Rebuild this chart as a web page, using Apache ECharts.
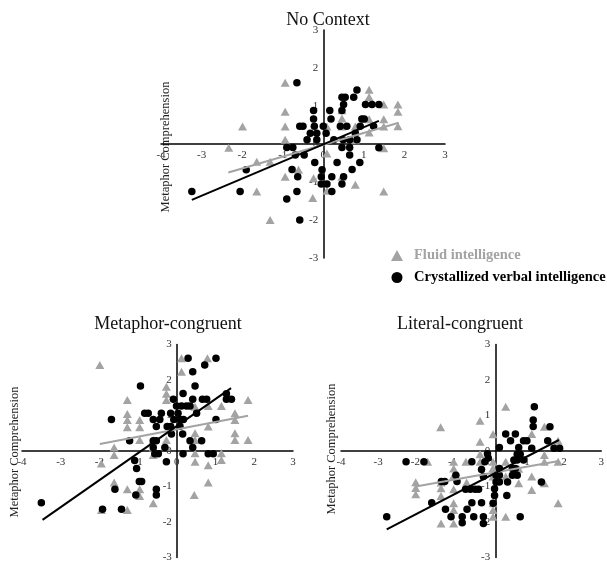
<!DOCTYPE html>
<html>
<head>
<meta charset="utf-8">
<script src="https://cdn.jsdelivr.net/npm/echarts@6/dist/echarts.min.js"></script>
<style>html,body{margin:0;padding:0;background:#fff}#c{width:607px;height:563px}</style>
</head>
<body>
<div id="c"></div>
<script>
const panelTitles = ['No Context', 'Metaphor-congruent', 'Literal-congruent'];
const seriesNames = ['Fluid intelligence', 'Crystallized verbal intelligence'];
const yAxisTitle = 'Metaphor Comprehension';
const xTicks = [-4, -3, -2, -1, 0, 1, 2, 3];
const yTicks = [-3, -2, -1, 0, 1, 2, 3];

// No Context
const noContextFluid = [[-0.94,1.61],[-0.94,0.85],[-0.94,0.46],[-0.94,0.11],[-1.99,0.46],[-2.33,-0.10],[-1.64,-0.47],[-1.31,-0.47],[-1.64,-1.25],[-1.31,-2.0],[-0.94,-0.86],[-0.61,-0.68],[-0.24,-0.90],[-0.26,-1.42],
[1.13,1.43],[1.13,1.24],[1.84,1.04],[1.84,0.85],[1.84,0.47],[1.49,1.04],[1.49,0.65],[1.49,0.46],[1.13,0.65],[1.13,0.30],[1.49,-0.11],[1.49,-1.25],[0.79,-1.07],[0.46,0.67],[0.46,0.46],[0.79,0.46],[0.09,0.46],[0.09,-1.23],[0.46,-0.86],[0.46,0.89],[0.09,-0.25],[0.79,0.10]];
const noContextCryst = [[-0.65,1.61],[0.83,1.42],[0.46,1.23],[0.54,1.23],[0.75,1.23],[0.50,1.04],[1.04,1.04],[1.20,1.04],[1.37,1.04],[-0.24,0.88],[0.16,0.88],[0.46,0.88],[-0.24,0.66],[0.19,0.66],[0.95,0.66],[1.01,0.66],
[-0.58,0.47],[-0.50,0.47],[-0.22,0.47],[0.0,0.47],[0.42,0.47],[0.58,0.47],[0.91,0.47],[1.24,0.47],[-0.32,0.28],[-0.16,0.28],[0.07,0.28],[0.79,0.28],[-0.40,0.11],[-0.16,0.11],[0.26,0.11],[0.49,0.11],[0.65,0.11],[0.83,0.11],
[-0.90,-0.09],[-0.75,-0.09],[0.46,-0.09],[0.65,-0.09],[1.37,-0.10],[-0.69,-0.29],[-0.47,-0.29],[0.65,-0.29],[-0.21,-0.49],[0.34,-0.49],[0.90,-0.49],[-0.77,-0.67],[-0.03,-0.68],[0.71,-0.67],[-1.90,-0.68],
[-0.63,-0.86],[-0.05,-0.86],[0.21,-0.86],[0.50,-0.86],[-0.05,-1.05],[0.09,-1.05],[0.46,-1.05],[-3.24,-1.25],[-2.05,-1.25],[-0.65,-1.25],[0.21,-1.25],[-0.90,-1.45],[-0.58,-2.0]];
const noContextFluidFit = [[-2.34,-0.75],[1.86,0.56]];
const noContextCrystFit = [[-3.24,-1.47],[1.37,0.61]];

// Metaphor-congruent
const metaphorFluid = [[-1.99,2.42],[-1.28,1.44],[-1.28,1.04],[-1.28,0.87],[-1.28,0.67],[-0.96,0.87],[-0.96,0.67],[-0.96,0.31],[-1.62,0.10],[-1.62,-0.11],[-1.95,-0.35],[-1.62,-0.89],[-1.28,-1.08],[-0.96,-1.08],[-0.96,-1.27],[-0.61,-1.47],[-1.28,-1.66],[-1.95,-1.66],
[-0.27,1.81],[-0.27,1.61],[-0.27,1.44],[-0.27,0.31],[-0.61,0.31],[-0.61,0.10],[-0.61,-0.11],[-0.27,0.12],
[0.12,2.61],[0.12,2.23],[0.79,2.61],[1.84,1.44],[1.50,1.06],[1.50,0.87],[1.50,0.50],[1.50,0.31],[1.84,0.31],[1.15,1.27],[0.81,1.27],[0.81,0.69],[0.47,1.25],[0.47,0.50],[0.47,0.31],[0.47,-0.06],[0.47,-0.30],[0.81,-0.40],[0.81,-0.89],[0.45,-1.24],[1.15,-0.06],[1.15,-0.25]];
const metaphorCryst = [[0.29,2.61],[1.01,2.61],[0.72,2.42],[0.41,2.23],[-0.94,1.83],[0.47,1.83],[0.16,1.62],[-0.09,1.46],[0.41,1.46],[0.66,1.46],[0.77,1.46],[1.28,1.61],[1.28,1.46],[1.41,1.46],
[-0.01,1.27],[0.12,1.27],[0.25,1.27],[0.34,1.27],[0.51,1.06],[-1.69,0.89],[-0.83,1.06],[-0.74,1.06],[-0.40,1.06],[-0.16,1.06],[0.03,1.06],[-0.61,0.89],[-0.44,0.89],[-0.08,0.89],[0.08,0.89],[0.17,0.89],[1.01,0.89],
[-0.53,0.69],[-0.25,0.69],[-0.16,0.69],[0.08,0.70],[-0.14,0.48],[0.15,0.48],[-1.22,0.29],[-0.61,0.29],[-0.53,0.29],[0.34,0.29],[0.64,0.29],[-0.31,0.10],[0.41,0.10],[-0.61,0.10],
[-0.57,-0.08],[-0.48,-0.08],[0.16,-0.08],[0.81,-0.08],[0.94,-0.08],[-1.09,-0.27],[-0.27,-0.30],[-1.04,-0.49],[-0.97,-0.86],[-0.91,-0.86],[-1.60,-1.08],[-0.53,-1.08],[-0.53,-1.24],[-1.06,-1.24],[-3.50,-1.46],[-1.92,-1.64],[-1.43,-1.64]];
const metaphorFluidFit = [[-1.99,0.20],[1.84,0.99]];
const metaphorCrystFit = [[-3.47,-1.94],[1.40,1.77]];

// Literal-congruent
const literalFluid = [[-1.32,0.67],[-0.26,0.85],[-0.26,0.26],[-0.26,-0.09],[0.43,1.25],[0.09,0.47],[-1.67,-0.30],[-0.97,-0.30],[-0.64,-0.30],[-0.26,-0.30],[-1.99,-0.88],[-1.99,-1.04],[-1.99,-1.22],[-1.31,-0.89],[-1.31,-1.05],[-1.31,-1.27],
[-0.97,-0.49],[-0.97,-0.70],[-0.97,-1.08],[-0.97,-1.47],[-0.97,-1.66],[-1.31,-2.04],[-0.97,-2.04],[-0.62,-0.89],[0.09,-0.30],[0.09,-0.48],[0.09,-0.72],[0.09,-1.47],[0.09,-1.66],[0.09,-1.85],[0.43,-0.30],[0.43,-0.72],[0.43,-1.85],
[0.78,-0.91],[0.78,-0.50],[1.13,0.48],[1.13,-0.72],[1.13,-1.10],[1.47,0.68],[1.47,-0.11],[1.47,-0.30],[1.47,-0.91],[1.84,0.29],[1.84,-0.30],[1.84,-1.47]];
const literalCryst = [[1.20,1.25],[1.17,0.87],[1.17,0.69],[1.62,0.68],[0.43,0.48],[0.69,0.48],[0.56,0.29],[1.56,0.29],[0.26,0.10],[0.91,0.29],[1.0,0.29],[0.78,0.10],[1.13,0.08],[1.73,0.08],[1.88,0.08],[-0.06,-0.08],[0.74,-0.09],[0.82,-0.09],
[0.65,-0.25],[0.74,-0.25],[0.91,-0.25],[-2.25,-0.30],[-1.77,-0.30],[-0.48,-0.30],[-0.13,-0.30],[-0.22,-0.52],[0.26,-0.49],[0.61,-0.49],[0.69,-0.49],[-0.91,-0.68],[-1.30,-0.86],[-1.21,-0.86],[-0.88,-0.86],[-0.17,-0.72],
[0.17,-0.68],[0.26,-0.68],[0.61,-0.68],[0.74,-0.68],[0.17,-0.87],[0.26,-0.87],[0.48,-0.87],[1.39,-0.87],[-0.65,-1.08],[-0.52,-1.08],[-0.39,-1.08],[-0.30,-1.08],[0.13,-1.06],[0.13,-1.25],[0.46,-1.25],
[-1.56,-1.46],[-0.48,-1.46],[0.09,-1.47],[-0.22,-1.46],[-1.19,-1.64],[-0.61,-1.64],[-2.77,-1.85],[-1.04,-1.85],[-0.74,-1.85],[-0.43,-1.85],[-0.17,-1.85],[-0.74,-2.02],[-0.17,-2.04],[0.82,-1.85],[-0.04,-0.20]];
const literalFluidFit = [[-1.99,-1.00],[1.86,-0.28]];
const literalCrystFit = [[-2.77,-2.21],[1.86,0.31]];

const FONT = '"Liberation Serif", "DejaVu Serif", serif';
const GRAY = '#a3a3a3';
const panels = [
  {grid:{left:161, top:30, width:284, height:228}, title:[323,6], yname:[166,147], fluid:noContextFluid, cryst:noContextCryst, ff:noContextFluidFit, cf:noContextCrystFit},
  {grid:{left:22, top:344.5, width:271, height:213}, title:[163,310], yname:[15,452], fluid:metaphorFluid, cryst:metaphorCryst, ff:metaphorFluidFit, cf:metaphorCrystFit},
  {grid:{left:341, top:344.5, width:270, height:213}, title:[455,310], yname:[332,449], fluid:literalFluid, cryst:literalCryst, ff:literalFluidFit, cf:literalCrystFit}
];

const chart = echarts.init(document.getElementById('c'), null, {renderer:'canvas'});
const grids = [], xAxes = [], yAxes = [], series = [], titles = [], graphics = [];
const xMin = xTicks[0], xMax = xTicks[xTicks.length-1], yMin = yTicks[0], yMax = yTicks[yTicks.length-1];
panels.forEach((p, i) => {
  grids.push(Object.assign({containLabel:false}, p.grid));
  const lab = {fontFamily:FONT, fontSize:11, color:'#333'};
  // place each axis where the other axis is zero
  const xOff = -p.grid.height * (0 - yMin) / (yMax - yMin);
  const yOff = -p.grid.width * (0 - xMin) / (xMax - xMin);
  xAxes.push({gridIndex:i, type:'value', min:xMin, max:xMax, interval:1, position:'bottom', offset:xOff,
    axisLine:{onZero:false, lineStyle:{color:'#000', width:1.5}}, axisTick:{show:false}, splitLine:{show:false},
    axisLabel:Object.assign({margin:6, showMinLabel:true, showMaxLabel:true}, lab)});
  yAxes.push({gridIndex:i, type:'value', min:yMin, max:yMax, interval:1, position:'left', offset:yOff,
    axisLine:{onZero:false, lineStyle:{color:'#000', width:1.5}}, axisTick:{show:false}, splitLine:{show:false},
    axisLabel:Object.assign({margin:5, showMinLabel:true, showMaxLabel:true}, lab)});
  titles.push({text:panelTitles[i], left:p.title[0], top:p.title[1], textAlign:'center',
    textStyle:{fontFamily:FONT, fontSize:18, fontWeight:'normal', color:'#111'}});
  graphics.push({type:'text', x:p.yname[0], y:p.yname[1], rotation:Math.PI/2,
    style:{text:yAxisTitle, font:'12.5px ' + FONT, fill:'#222', textAlign:'center', textVerticalAlign:'middle'}});
  series.push({name:seriesNames[0], type:'scatter', xAxisIndex:i, yAxisIndex:i, data:p.fluid, symbol:'triangle', symbolSize:[9,8],
    itemStyle:{color:GRAY, opacity:1}, z:2, silent:true});
  series.push({name:seriesNames[1], type:'scatter', xAxisIndex:i, yAxisIndex:i, data:p.cryst, symbol:'circle', symbolSize:7.5,
    itemStyle:{color:'#000', opacity:1}, z:3, silent:true});
  series.push({name:'fitF'+i, type:'line', xAxisIndex:i, yAxisIndex:i, data:p.ff, symbol:'none',
    lineStyle:{color:GRAY, width:2}, z:4, silent:true});
  series.push({name:'fitC'+i, type:'line', xAxisIndex:i, yAxisIndex:i, data:p.cf, symbol:'none',
    lineStyle:{color:'#000', width:2}, z:5, silent:true});
});

chart.setOption({
  animation:false,
  backgroundColor:'#fff',
  title:titles,
  grid:grids, xAxis:xAxes, yAxis:yAxes, series:series,
  graphic:graphics,
  legend:{show:true, orient:'vertical', left:386, top:243, itemWidth:12, itemHeight:11, itemGap:7,
    selectedMode:false,
    data:[
      {name:seriesNames[0], icon:'triangle', itemStyle:{color:GRAY}, textStyle:{color:GRAY}},
      {name:seriesNames[1], icon:'circle', itemStyle:{color:'#000'}, textStyle:{color:'#000'}}
    ],
    textStyle:{fontFamily:FONT, fontSize:14.5, fontWeight:'bold', padding:[0,0,0,6]}}
});
</script>
</body>
</html>
